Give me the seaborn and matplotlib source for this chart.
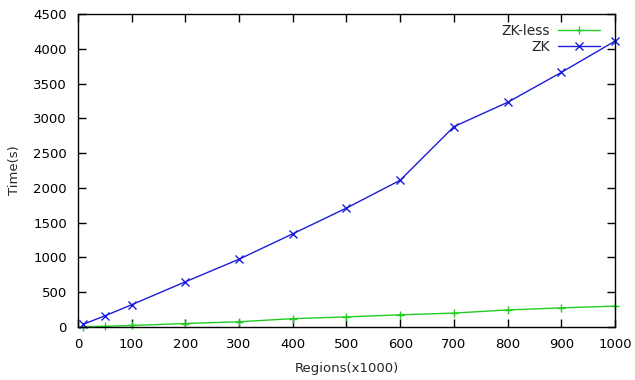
import matplotlib
matplotlib.use("Agg")
import matplotlib.pyplot as plt
import seaborn as sns
import pandas as pd

regions = [10, 50, 100, 200, 300, 400, 500, 600, 700, 800, 900, 1000]
zk_less = [5, 10, 22, 50, 75, 120, 145, 175, 200, 245, 275, 300]
zk = [40, 160, 320, 650, 975, 1340, 1710, 2110, 2880, 3230, 3660, 4110]
x_ticks = [0, 100, 200, 300, 400, 500, 600, 700, 800, 900, 1000]
y_ticks = [0, 500, 1000, 1500, 2000, 2500, 3000, 3500, 4000, 4500]

sns.set_theme(style="white")
plt.rcParams['font.family'] = ['DejaVu Sans']

df = pd.DataFrame({
    "Regions": regions * 2,
    "Time": zk_less + zk,
    "series": ["ZK-less"] * len(regions) + ["ZK"] * len(regions),
})

fig = plt.figure(figsize=(6.35, 3.8), dpi=100)
ax = fig.add_axes([0.1228, 0.1395, 0.8457, 0.8237])

palette = {"ZK-less": "#22cc22", "ZK": "#1c1cdc"}
markers = {"ZK-less": "+", "ZK": "x"}
for name in ["ZK-less", "ZK"]:
    sub = df[df["series"] == name]
    sns.lineplot(data=sub, x="Regions", y="Time", ax=ax, color=palette[name],
                 marker=markers[name], markersize=5.5, markeredgewidth=1.0,
                 markeredgecolor=palette[name], linewidth=1.0, label=name,
                 clip_on=False)

ax.set_xlim(0, 1000)
ax.set_ylim(0, 4500)
ax.set_xticks(x_ticks)
ax.set_yticks(y_ticks)
ax.tick_params(direction="in", length=6, width=1, color="black", labelsize=9.5,
               top=True, right=True, left=True, bottom=True, pad=8,
               labelcolor="black")
for s in ax.spines.values():
    s.set_color("black")
    s.set_linewidth(1.0)
ax.set_xlabel("Regions(x1000)", fontsize=9.5, labelpad=8)
ax.set_ylabel("Time(s)", fontsize=9.5, labelpad=9)

leg = ax.legend(loc="upper right", frameon=False, fontsize=10, markerfirst=False,
                handlelength=3.0, handletextpad=0.6, borderaxespad=0.3,
                labelspacing=0.15, bbox_to_anchor=(0.99, 1.0))

fig.savefig("out.png", dpi=100)
